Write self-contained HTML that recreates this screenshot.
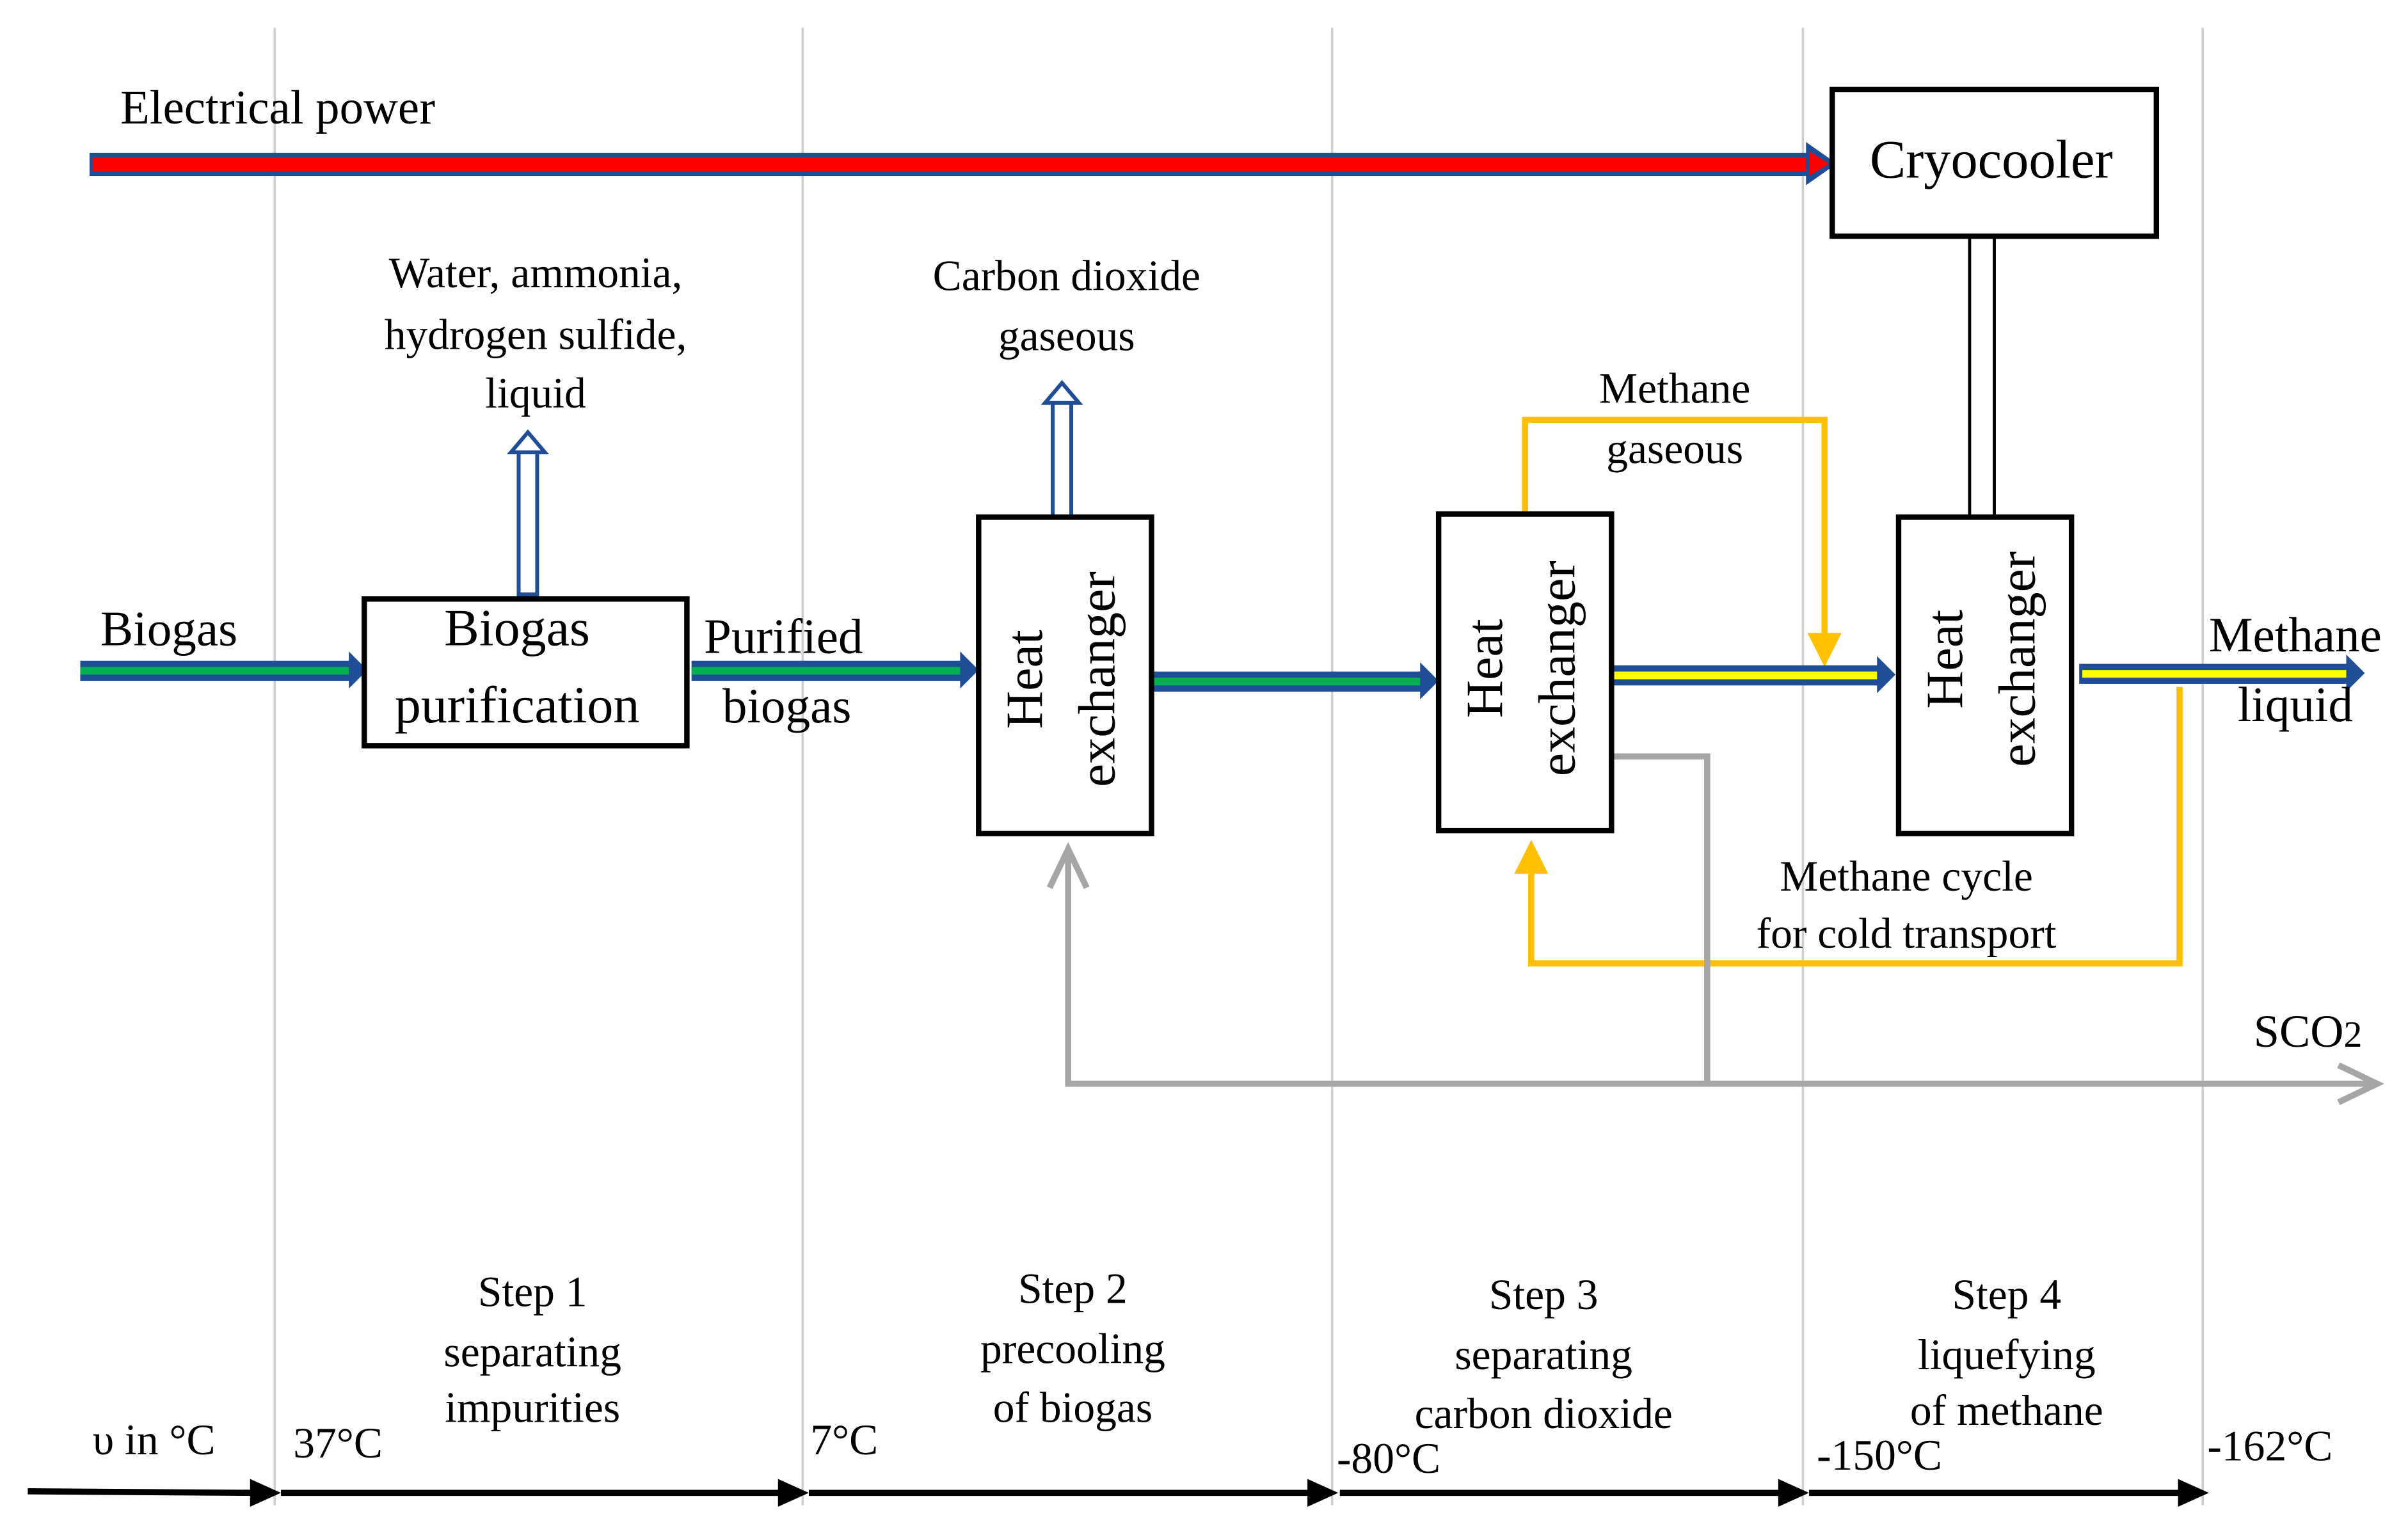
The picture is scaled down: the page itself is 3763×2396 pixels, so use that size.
<!DOCTYPE html>
<html><head><meta charset="utf-8"><style>
html,body{margin:0;padding:0;background:#fff;}
svg{display:block;font-family:"Liberation Serif","Times New Roman","DejaVu Serif",serif;}
svg text{font-family:"Liberation Serif","Times New Roman","DejaVu Serif",serif;fill:#000;}
</style></head><body>
<svg width="3763" height="2396" viewBox="0 0 1560 993" preserveAspectRatio="none" xmlns="http://www.w3.org/2000/svg" font-family="Liberation Serif, Times New Roman, serif">
<!-- grid lines -->
<g stroke="#cfcfcf" stroke-width="1.5">
<line x1="178" y1="18" x2="178" y2="975"/>
<line x1="520" y1="18" x2="520" y2="975"/>
<line x1="863" y1="18" x2="863" y2="975"/>
<line x1="1168" y1="18" x2="1168" y2="975"/>
<line x1="1427" y1="18" x2="1427" y2="975"/>
</g>
<!-- red arrow -->
<rect x="58" y="99" width="1115" height="15" fill="#1f4e96"/>
<rect x="60" y="102" width="1113" height="9" fill="#f00"/>
<polygon points="1170,92 1190,106 1170,120" fill="#1f4e96"/>
<polygon points="1172,98 1185,106 1172,114" fill="#f00"/>
<text x="78" y="80" font-size="31">Electrical power</text>
<!-- cryocooler -->
<rect x="1187" y="58" width="210" height="95" fill="#fff" stroke="#000" stroke-width="3.5"/>
<text x="1290" y="115" font-size="35" text-anchor="middle">Cryocooler</text>
<line x1="1276" y1="153" x2="1276" y2="335" stroke="#000" stroke-width="2"/>
<line x1="1292" y1="153" x2="1292" y2="335" stroke="#000" stroke-width="2"/>
<!-- yellow loops -->
<polyline points="988,333 988,272 1182,272 1182,418" fill="none" stroke="#ffc000" stroke-width="4"/>
<polygon points="1171,410 1193,410 1182,432" fill="#ffc000"/>
<polyline points="1412,445 1412,624 992,624 992,560" fill="none" stroke="#ffc000" stroke-width="4"/>
<polygon points="981,566 1003,566 992,544" fill="#ffc000"/>
<!-- grey -->
<polyline points="1044,490 1106,490 1106,702" fill="none" stroke="#a6a6a6" stroke-width="4"/>
<polyline points="692,550 692,702 1540,702" fill="none" stroke="#a6a6a6" stroke-width="4"/>
<polyline points="1515,690 1540,702 1515,714" fill="none" stroke="#a6a6a6" stroke-width="4"/>
<polyline points="680,575 692,550 704,575" fill="none" stroke="#a6a6a6" stroke-width="4"/>
<!-- green arrows -->
<g>
<rect x="52" y="428" width="176" height="13" fill="#1f4e96"/><rect x="52" y="432" width="176" height="5" fill="#00b050"/>
<polygon points="226,422 238,434 226,446" fill="#1f4e96"/>
<rect x="448" y="428" width="176" height="13" fill="#1f4e96"/><rect x="448" y="432" width="176" height="5" fill="#00b050"/>
<polygon points="622,422 634,434 622,446" fill="#1f4e96"/>
<rect x="746" y="435" width="176" height="13" fill="#1f4e96"/><rect x="746" y="439" width="176" height="5" fill="#00b050"/>
<polygon points="920,429 932,441 920,453" fill="#1f4e96"/>
<rect x="1044" y="431" width="174" height="13" fill="#1f4e96"/><rect x="1044" y="435" width="174" height="5" fill="#ff0"/>
<polygon points="1216,425 1228,437 1216,449" fill="#1f4e96"/>
<rect x="1347" y="430" width="175" height="13" fill="#1f4e96"/><rect x="1349" y="434" width="173" height="5" fill="#ff0"/>
<polygon points="1520,424 1532,436 1520,448" fill="#1f4e96"/>
</g>
<!-- up hollow arrows -->
<rect x="336" y="292" width="12" height="93" fill="#fff" stroke="#1f4e96" stroke-width="2.5"/>
<polygon points="331,293 342,280 353,293" fill="#fff" stroke="#1f4e96" stroke-width="2.5"/>
<rect x="682" y="260" width="12" height="75" fill="#fff" stroke="#1f4e96" stroke-width="2.5"/>
<polygon points="677,261 688,248 699,261" fill="#fff" stroke="#1f4e96" stroke-width="2.5"/>
<!-- boxes -->
<rect x="236" y="388" width="209" height="95" fill="#fff" stroke="#000" stroke-width="3.5"/>
<text x="335" y="418" font-size="34" text-anchor="middle">Biogas</text>
<text x="335" y="468" font-size="34" text-anchor="middle">purification</text>
<rect x="634" y="335" width="112" height="205" fill="#fff" stroke="#000" stroke-width="3.5"/>
<text transform="translate(675,440) rotate(-90)" font-size="34" text-anchor="middle">Heat</text>
<text transform="translate(722,440) rotate(-90)" font-size="34" text-anchor="middle">exchanger</text>
<rect x="932" y="333" width="112" height="205" fill="#fff" stroke="#000" stroke-width="3.5"/>
<text transform="translate(973,433) rotate(-90)" font-size="34" text-anchor="middle">Heat</text>
<text transform="translate(1020,433) rotate(-90)" font-size="34" text-anchor="middle">exchanger</text>
<rect x="1230" y="335" width="112" height="205" fill="#fff" stroke="#000" stroke-width="3.5"/>
<text transform="translate(1271,427) rotate(-90)" font-size="34" text-anchor="middle">Heat</text>
<text transform="translate(1318,427) rotate(-90)" font-size="34" text-anchor="middle">exchanger</text>
<!-- labels -->
<text x="65" y="418" font-size="32">Biogas</text>
<text x="456" y="423" font-size="32">Purified</text>
<text x="468" y="468" font-size="32">biogas</text>
<text x="347" y="186" font-size="28" text-anchor="middle">Water, ammonia,</text>
<text x="347" y="226" font-size="28" text-anchor="middle">hydrogen sulfide,</text>
<text x="347" y="264" font-size="28" text-anchor="middle">liquid</text>
<text x="691" y="188" font-size="28" text-anchor="middle">Carbon dioxide</text>
<text x="691" y="227" font-size="28" text-anchor="middle">gaseous</text>
<text x="1085" y="261" font-size="28" text-anchor="middle">Methane</text>
<text x="1085" y="300" font-size="28" text-anchor="middle">gaseous</text>
<text x="1487" y="422" font-size="32" text-anchor="middle">Methane</text>
<text x="1487" y="467" font-size="32" text-anchor="middle">liquid</text>
<text x="1235" y="577" font-size="28" text-anchor="middle">Methane cycle</text>
<text x="1235" y="614" font-size="28" text-anchor="middle">for cold transport</text>
<text x="1460" y="678" font-size="30">SCO<tspan font-size="24">2</tspan></text>
<!-- steps -->
<g font-size="28" text-anchor="middle">
<text x="345" y="846">Step 1</text><text x="345" y="885">separating</text><text x="345" y="921">impurities</text>
<text x="695" y="844">Step 2</text><text x="695" y="883">precooling</text><text x="695" y="921">of biogas</text>
<text x="1000" y="848">Step 3</text><text x="1000" y="887">separating</text><text x="1000" y="925">carbon dioxide</text>
<text x="1300" y="848">Step 4</text><text x="1300" y="887">liquefying</text><text x="1300" y="923">of methane</text>
</g>
<g font-size="28">
<text x="60" y="942">υ in °C</text>
<text x="190" y="944">37°C</text>
<text x="525" y="942">7°C</text>
<text x="866" y="954">-80°C</text>
<text x="1177" y="952">-150°C</text>
<text x="1430" y="946">-162°C</text>
</g>
<!-- axis -->
<g stroke="#000" stroke-width="4">
<line x1="18" y1="966" x2="166" y2="967"/>
<line x1="182" y1="967" x2="508" y2="967"/>
<line x1="524" y1="967" x2="851" y2="967"/>
<line x1="868" y1="967" x2="1156" y2="967"/>
<line x1="1172" y1="967" x2="1415" y2="967"/>
</g>
<g fill="#000">
<polygon points="162,958 182,967 162,976"/>
<polygon points="504,958 524,967 504,976"/>
<polygon points="847,958 867,967 847,976"/>
<polygon points="1152,958 1172,967 1152,976"/>
<polygon points="1411,958 1431,967 1411,976"/>
</g>
</svg>
</body></html>
